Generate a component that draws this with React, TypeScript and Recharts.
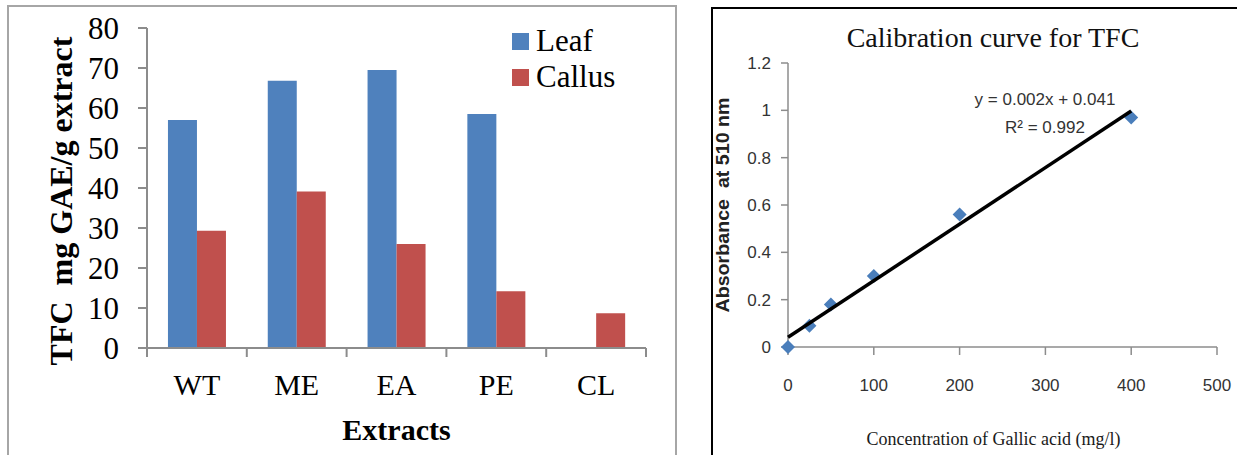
import React from 'react';
import { Bar, BarChart, Legend, Scatter, ScatterChart, XAxis, YAxis } from 'recharts';

const extracts = ['WT', 'ME', 'EA', 'PE', 'CL'];
const leafTfc = [57, 66.8, 69.5, 58.5, 0];
const callusTfc = [29.3, 39.1, 26, 14.2, 8.7];
const tfcTicks = [0, 10, 20, 30, 40, 50, 60, 70, 80];
const seriesNames = ['Leaf', 'Callus'];

const gallicConc = [0, 25, 50, 100, 200, 400];
const absorbance = [0, 0.09, 0.18, 0.3, 0.56, 0.97];
const trendConc = [0, 400];
const trendAbs = [0.041, 0.997];
const concTicks = [0, 100, 200, 300, 400, 500];
const absTicks = [0, 0.2, 0.4, 0.6, 0.8, 1, 1.2];

const barData = extracts.map((name, i) => ({ name, leaf: leafTfc[i], callus: callusTfc[i] }));
const pointData = gallicConc.map((x, i) => ({ x, y: absorbance[i] }));
const trendData = trendConc.map((x, i) => ({ x, y: trendAbs[i] }));

const SERIF = '"Liberation Serif", "Times New Roman", serif';
const SANS = '"Liberation Sans", Arial, sans-serif';
const LEAF = '#4F81BD';
const CALLUS = '#C0504D';
const AXIS = '#8c8c8c';

function ExtractTick(props: any) {
  const { x, y, payload, index } = props;
  const half = payload && typeof payload.offset === 'number' && payload.offset > 0 ? payload.offset : 49.9;
  const last = index === extracts.length - 1;
  return (
    <g>
      <line x1={x - half} x2={x - half} y1={y} y2={y + 9} stroke={AXIS} strokeWidth={2} />
      {last && <line x1={x + half} x2={x + half} y1={y} y2={y + 9} stroke={AXIS} strokeWidth={2} />}
      <text x={x} y={y + 47} textAnchor="middle" fontFamily={SERIF} fontSize={30} fill="#000">
        {payload.value}
      </text>
    </g>
  );
}

function TfcLegend(props: any) {
  const items = [...(props.payload || [])].sort(
    (a: any, b: any) => seriesNames.indexOf(a.value) - seriesNames.indexOf(b.value)
  );
  return (
    <div>
      {items.map((item: any) => (
        <div key={item.value} style={{ display: 'flex', alignItems: 'center', height: 36 }}>
          <span style={{ width: 17, height: 17, background: item.color, marginRight: 7 }} />
          <span style={{ fontFamily: SERIF, fontSize: 31, lineHeight: '36px', color: '#000' }}>{item.value}</span>
        </div>
      ))}
    </div>
  );
}

function Diamond(props: any) {
  const { cx, cy } = props;
  const r = 7;
  return <path d={`M${cx},${cy - r}L${cx + r},${cy}L${cx},${cy + r}L${cx - r},${cy}Z`} fill="#4A7EBB" />;
}

function TfcChart() {
  return (
    <BarChart
      width={680}
      height={455}
      data={barData}
      margin={{ top: 28, right: 34, bottom: 47, left: 67 }}
      barCategoryGap="21%"
      barGap={0}
    >
      <XAxis
        dataKey="name"
        height={60}
        interval={0}
        tickSize={0}
        tickMargin={0}
        tickLine={false}
        axisLine={{ stroke: AXIS, strokeWidth: 2 }}
        tick={<ExtractTick />}
        label={(p: any) => (
          <text
            x={p.viewBox.x + p.viewBox.width / 2}
            y={p.viewBox.y + 92}
            textAnchor="middle"
            fontFamily={SERIF}
            fontWeight="bold"
            fontSize={30}
            fill="#000"
          >
            Extracts
          </text>
        )}
      />
      <YAxis
        width={80}
        domain={[0, 80]}
        ticks={tfcTicks}
        interval={0}
        tickSize={9}
        tickMargin={19}
        axisLine={{ stroke: AXIS, strokeWidth: 2 }}
        tickLine={{ stroke: AXIS, strokeWidth: 2 }}
        tick={{ fontFamily: SERIF, fontSize: 31, fill: '#000' }}
        label={(p: any) => (
          <text
            transform={`translate(${p.viewBox.x + 5},${p.viewBox.y + p.viewBox.height / 2 + 13}) rotate(-90)`}
            textAnchor="middle"
            fontFamily={SERIF}
            fontWeight="bold"
            fontSize={32}
            fill="#000"
            style={{ whiteSpace: 'pre' }}
          >
            {'TFC  mg GAE/g extract'}
          </text>
        )}
      />
      <Legend
        layout="vertical"
        align="center"
        verticalAlign="middle"
        wrapperStyle={{ left: 512, top: 23, width: 'auto' }}
        content={<TfcLegend />}
      />
      <Bar dataKey="leaf" name="Leaf" fill={LEAF} isAnimationActive={false} />
      <Bar dataKey="callus" name="Callus" fill={CALLUS} isAnimationActive={false} />
    </BarChart>
  );
}

function CalibrationChart() {
  return (
    <ScatterChart width={537} height={455} margin={{ top: 63, right: 20, bottom: 68, left: 28 }}>
      <XAxis
        type="number"
        dataKey="x"
        domain={[0, 500]}
        ticks={concTicks}
        interval={0}
        height={40}
        tickSize={8}
        tickMargin={24}
        axisLine={{ stroke: AXIS, strokeWidth: 1.5 }}
        tickLine={{ stroke: AXIS, strokeWidth: 1.5 }}
        tick={{ fontFamily: SANS, fontSize: 17, fill: '#333' }}
        label={(p: any) => (
          <text
            x={p.viewBox.x + p.viewBox.width / 2 - 9}
            y={p.viewBox.y + 98}
            textAnchor="middle"
            fontFamily={SERIF}
            fontSize={18}
            fill="#1a1a1a"
          >
            Concentration of Gallic acid (mg/l)
          </text>
        )}
      />
      <YAxis
        type="number"
        dataKey="y"
        width={60}
        domain={[0, 1.2]}
        ticks={absTicks}
        interval={0}
        tickSize={7}
        tickMargin={10}
        axisLine={{ stroke: AXIS, strokeWidth: 1.5 }}
        tickLine={{ stroke: AXIS, strokeWidth: 1.5 }}
        tick={{ fontFamily: SANS, fontSize: 17, fill: '#333' }}
        label={(p: any) => (
          <text
            transform={`translate(${p.viewBox.x + 1},${p.viewBox.y + p.viewBox.height / 2}) rotate(-90)`}
            textAnchor="middle"
            fontFamily={SANS}
            fontWeight="bold"
            fontSize={18}
            textLength={215}
            lengthAdjust="spacingAndGlyphs"
            fill="#222"
            style={{ whiteSpace: 'pre' }}
          >
            {'Absorbance  at 510 nm'}
          </text>
        )}
      />
      <Scatter data={pointData} shape={<Diamond />} isAnimationActive={false} />
      <Scatter
        data={trendData}
        line={{ stroke: '#000', strokeWidth: 3.5 }}
        shape={() => <g />}
        isAnimationActive={false}
      />
    </ScatterChart>
  );
}

export default function App() {
  return (
    <div
      style={{
        position: 'absolute',
        left: 0,
        top: 0,
        width: 1237,
        height: 455,
        overflow: 'hidden',
        background: '#fff',
      }}
    >
      <div
        style={{
          position: 'absolute',
          left: 7,
          top: 5,
          width: 666,
          height: 470,
          border: '2px solid #a6a6a6',
        }}
      />
      <div style={{ position: 'absolute', left: 0, top: 0 }}>
        <TfcChart />
      </div>

      <div
        style={{
          position: 'absolute',
          left: 711,
          top: 7,
          width: 560,
          height: 470,
          border: '2px solid #000',
        }}
      />
      <div style={{ position: 'absolute', left: 700, top: 0 }}>
        <CalibrationChart />
      </div>
      <div
        style={{
          position: 'absolute',
          left: 843,
          width: 300,
          top: 24,
          textAlign: 'center',
          fontFamily: SERIF,
          fontSize: 28,
          lineHeight: '28px',
          color: '#111',
        }}
      >
        Calibration curve for TFC
      </div>
      <div
        style={{
          position: 'absolute',
          left: 945,
          width: 200,
          top: 91,
          textAlign: 'center',
          fontFamily: SANS,
          fontSize: 17,
          lineHeight: '17px',
          color: '#333',
        }}
      >
        y = 0.002x + 0.041
      </div>
      <div
        style={{
          position: 'absolute',
          left: 945,
          width: 200,
          top: 119,
          textAlign: 'center',
          fontFamily: SANS,
          fontSize: 17,
          lineHeight: '17px',
          color: '#333',
        }}
      >
        R² = 0.992
      </div>
    </div>
  );
}
